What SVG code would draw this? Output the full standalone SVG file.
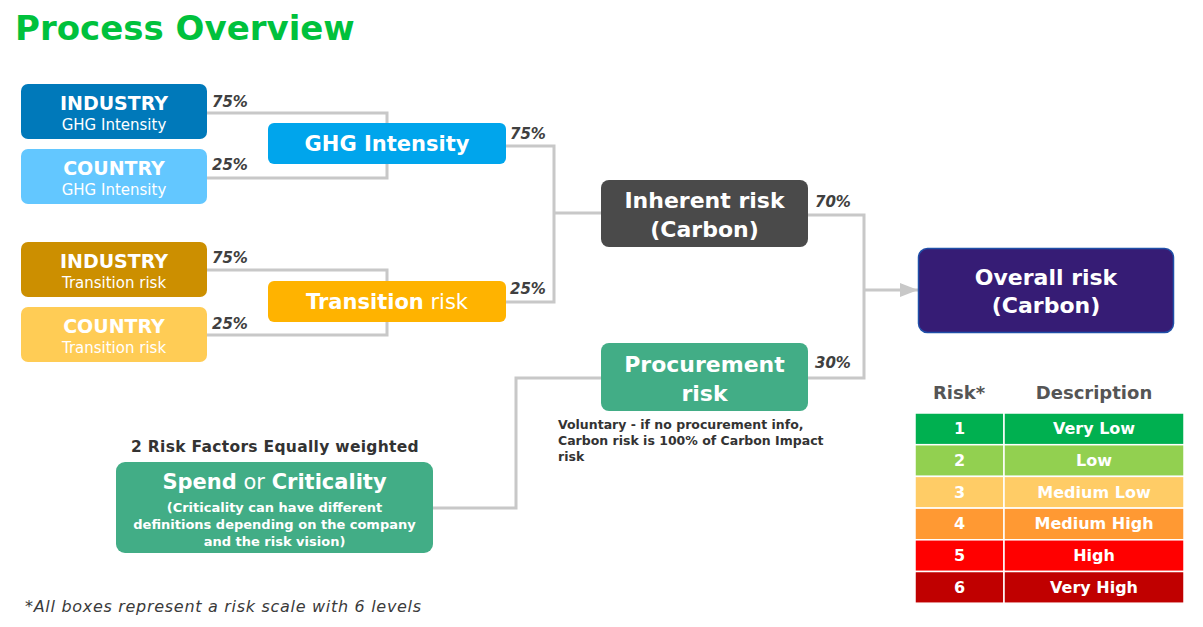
<svg xmlns="http://www.w3.org/2000/svg" width="1203" height="627" viewBox="0 0 1203 627">
<defs>
<style>
text{font-family:"DejaVu Sans","Open Sans",sans-serif}
.w{fill:#fff;text-anchor:middle}
.b{font-weight:700}
.pct{font-size:15px;font-weight:700;font-style:italic;fill:#404040}
.conn{fill:none;stroke:#c8c8c8;stroke-width:3}
.hdr{font-size:18px;font-weight:700;fill:#555;text-anchor:middle}
.cell{font-size:16px;font-weight:700;fill:#fff;text-anchor:middle}
.note{font-size:12.500px;font-weight:700;fill:#333}
</style>
<marker id="arr" markerWidth="18" markerHeight="14" refX="18" refY="7" orient="auto" markerUnits="userSpaceOnUse" viewBox="0 0 18 14"><path d="M0,0 L18,7 L0,14 z" fill="#c8c8c8"/></marker>
</defs>
<rect width="1203" height="627" fill="#fff"/>
<text x="15" y="40" font-size="34" font-weight="700" fill="#00c13c">Process Overview</text>

<g id="connectors">
<path class="conn" d="M207,113 H387 V123"/>
<path class="conn" d="M207,178 H387 V164"/>
<path class="conn" d="M207,270 H387 V281"/>
<path class="conn" d="M207,335 H387 V322"/>
<path class="conn" d="M506,146 H554 V302 H506"/>
<path class="conn" d="M554,213 H601"/>
<path class="conn" d="M808,215 H864 V378 H808"/>
<path class="conn" d="M864,290 H918" marker-end="url(#arr)"/>
<path class="conn" d="M601,378 H516 V508 H433"/>
<text class="pct" x="212" y="107">75%</text>
<text class="pct" x="212" y="170">25%</text>
<text class="pct" x="212" y="263">75%</text>
<text class="pct" x="212" y="329">25%</text>
<text class="pct" x="510" y="139">75%</text>
<text class="pct" x="510" y="294">25%</text>
<text class="pct" x="815" y="207">70%</text>
<text class="pct" x="815" y="368">30%</text>
</g>

<g id="industry-ghg">
<rect x="21" y="84" width="186" height="55" rx="7" fill="#0079ba"/>
<text class="w b" x="114" y="110" font-size="19">INDUSTRY</text>
<text class="w" x="114" y="130" font-size="15">GHG Intensity</text>
</g>
<g id="country-ghg">
<rect x="21" y="149" width="186" height="55" rx="7" fill="#63c7ff"/>
<text class="w b" x="114" y="175" font-size="19">COUNTRY</text>
<text class="w" x="114" y="195" font-size="15">GHG Intensity</text>
</g>
<g id="industry-transition">
<rect x="21" y="242" width="186" height="55" rx="7" fill="#cc8f00"/>
<text class="w b" x="114" y="268" font-size="19">INDUSTRY</text>
<text class="w" x="114" y="288" font-size="15">Transition risk</text>
</g>
<g id="country-transition">
<rect x="21" y="307" width="186" height="55" rx="7" fill="#ffcc55"/>
<text class="w b" x="114" y="333" font-size="19">COUNTRY</text>
<text class="w" x="114" y="353" font-size="15">Transition risk</text>
</g>
<g id="ghg-intensity">
<rect x="268" y="123" width="238" height="41" rx="6" fill="#00a5ec"/>
<text class="w b" x="387" y="151" font-size="21">GHG Intensity</text>
</g>
<g id="transition-risk">
<rect x="268" y="281" width="238" height="41" rx="6" fill="#ffb300"/>
<text class="w" x="387" y="309" font-size="21"><tspan font-weight="700">Transition</tspan> risk</text>
</g>
<g id="inherent-risk">
<rect x="601" y="180" width="207" height="67" rx="8" fill="#4a4a4a"/>
<text class="w b" x="704.500" y="208" font-size="22">Inherent risk</text>
<text class="w b" x="704.500" y="237" font-size="22">(Carbon)</text>
</g>
<g id="procurement-risk">
<rect x="601" y="343" width="207" height="68" rx="8" fill="#42ad86"/>
<text class="w b" x="704.500" y="372" font-size="22">Procurement</text>
<text class="w b" x="704.500" y="401" font-size="22">risk</text>
<text class="note" x="558" y="429">Voluntary - if no procurement info,</text>
<text class="note" x="558" y="445">Carbon risk is 100% of Carbon Impact</text>
<text class="note" x="558" y="461">risk</text>
</g>
<g id="overall-risk">
<rect x="918.500" y="248.500" width="255" height="84" rx="9" fill="#361c75" stroke="#1f4fa8" stroke-width="1.500"/>
<text class="w b" x="1046" y="285" font-size="22">Overall risk</text>
<text class="w b" x="1046" y="313" font-size="22">(Carbon)</text>
</g>
<g id="spend-criticality">
<text x="275" y="452" font-size="15.500" letter-spacing="0.3" font-weight="700" fill="#333" text-anchor="middle">2 Risk Factors Equally weighted</text>
<rect x="116" y="462" width="317" height="91" rx="9" fill="#42ad86"/>
<text class="w" x="274.500" y="489" font-size="21"><tspan font-weight="700">Spend</tspan> or <tspan font-weight="700">Criticality</tspan></text>
<text class="w b" x="274.500" y="512" font-size="13">(Criticality can have different</text>
<text class="w b" x="274.500" y="529" font-size="13">definitions depending on the company</text>
<text class="w b" x="274.500" y="546" font-size="13">and the risk vision)</text>
</g>

<g id="risk-table">
<text class="hdr" x="959" y="399">Risk*</text>
<text class="hdr" x="1094" y="399">Description</text>
<g stroke="#fff" stroke-width="1.500">
<rect x="915" y="413" width="89" height="31.700" fill="#00b050"/><rect x="1004" y="413" width="180" height="31.700" fill="#00b050"/>
<rect x="915" y="444.700" width="89" height="31.700" fill="#92d050"/><rect x="1004" y="444.700" width="180" height="31.700" fill="#92d050"/>
<rect x="915" y="476.400" width="89" height="31.700" fill="#ffcc66"/><rect x="1004" y="476.400" width="180" height="31.700" fill="#ffcc66"/>
<rect x="915" y="508.100" width="89" height="31.700" fill="#ff9933"/><rect x="1004" y="508.100" width="180" height="31.700" fill="#ff9933"/>
<rect x="915" y="539.800" width="89" height="31.700" fill="#ff0000"/><rect x="1004" y="539.800" width="180" height="31.700" fill="#ff0000"/>
<rect x="915" y="571.500" width="89" height="31.700" fill="#c00000"/><rect x="1004" y="571.500" width="180" height="31.700" fill="#c00000"/>
</g>
<text class="cell" x="959.500" y="434">1</text><text class="cell" x="1094" y="434">Very Low</text>
<text class="cell" x="959.500" y="466">2</text><text class="cell" x="1094" y="466">Low</text>
<text class="cell" x="959.500" y="498">3</text><text class="cell" x="1094" y="498">Medium Low</text>
<text class="cell" x="959.500" y="529">4</text><text class="cell" x="1094" y="529">Medium High</text>
<text class="cell" x="959.500" y="561">5</text><text class="cell" x="1094" y="561">High</text>
<text class="cell" x="959.500" y="593">6</text><text class="cell" x="1094" y="593">Very High</text>
</g>

<text x="25" y="612" font-size="16" letter-spacing="0.7" font-style="italic" fill="#3a3a3a">*All boxes represent a risk scale with 6 levels</text>
</svg>
